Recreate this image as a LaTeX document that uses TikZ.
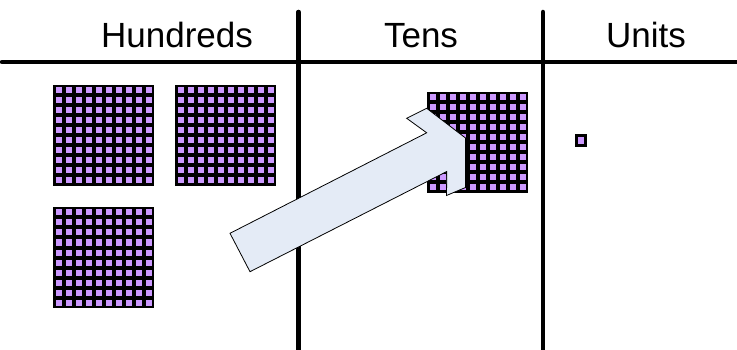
\documentclass[tikz,border=0pt]{standalone}
\usepackage{fontspec}
\setmainfont{Liberation Sans}
\definecolor{cube}{RGB}{204,153,255}
\definecolor{arrowfill}{RGB}{228,235,246}
\begin{document}
\begin{tikzpicture}[x=1pt,y=-1pt,
  rule/.style={line width=4.5pt, line cap=round},
  head/.style={font=\fontsize{35}{40}\selectfont, anchor=base, inner sep=0pt},
  hundred/.pic={
    \fill[black] (0,0) rectangle (101,101);
    \foreach \i in {0,...,9}
      \foreach \j in {0,...,9}
        \fill[cube] ({2.5+10*\i},{2.5+10*\j}) rectangle ++(6,6);
  },
  bigarrow/.style={fill=arrowfill, draw=black, line width=0.8pt, line join=miter}]
\useasboundingbox (0,0) rectangle (737,350);
% table rules
\coordinate (hl) at (2,62);
\coordinate (hr) at (740,62);
\coordinate (v1t) at (298.5,12);
\coordinate (v1b) at (298.5,352);
\coordinate (v2t) at (543,12);
\coordinate (v2b) at (543,352);
\draw[rule] (hl) -- (hr);
\draw[rule] (v1t) -- (v1b);
\draw[rule] (v2t) -- (v2b);
% headings
\node[head] (hundreds) at (177,47.3) {Hundreds};
\node[head] (tens) at (421,47.3) {Tens};
\node[head] (units) at (646,47.3) {Units};
% blocks
\pic at (53,85) {hundred};
\pic at (175,85) {hundred};
\pic at (53,207) {hundred};
\pic at (427,92) {hundred};
% unit cube
\fill[black] (575,134) rectangle (587,147);
\fill[cube] (578,137) rectangle (584,144);
% arrow
\draw[bigarrow] (230,233.3) -- (426.7,132.8) -- (406.7,118.3) -- (426.7,108.3)
  -- (465.5,138) -- (465.5,187.5) -- (446.5,195.5) -- (446.8,171.5) -- (250,271.7) -- cycle;
\end{tikzpicture}
\end{document}
